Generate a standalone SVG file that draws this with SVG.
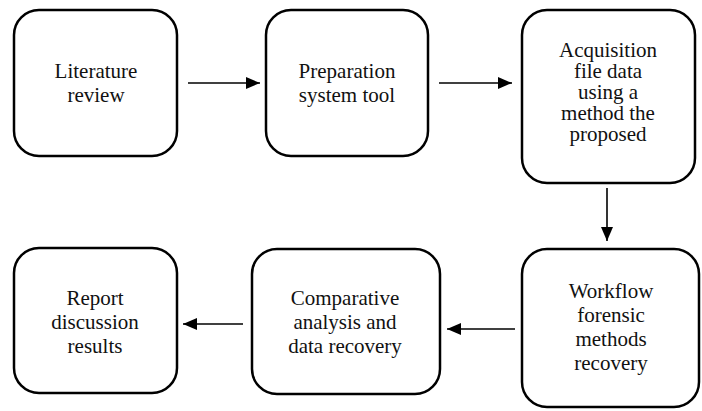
<svg xmlns="http://www.w3.org/2000/svg" width="702" height="411" viewBox="0 0 702 411">
<style>
.box{fill:#fff;stroke:#000;stroke-width:2.5}
text{font-family:'Liberation Serif','Times New Roman',serif;font-size:21px;fill:#111;text-anchor:middle}
.c{stroke:#000;stroke-width:1.6;fill:none}
</style>
<defs>
<marker id="ah" viewBox="0 0 14 12" refX="14" refY="6" markerWidth="14" markerHeight="12" markerUnits="userSpaceOnUse" orient="auto">
<path d="M0,0 L14,6 L0,12 Z" fill="#000"/>
</marker>
</defs>
<rect width="702" height="411" fill="#fff"/>
<g id="n1"><rect class="box" x="14" y="10" width="163" height="146" rx="25"/>
<text x="96" y="78">Literature</text><text x="96" y="102">review</text></g>
<g id="n2"><rect class="box" x="266" y="10" width="162" height="146" rx="25"/>
<text x="347" y="78">Preparation</text><text x="347" y="102">system tool</text></g>
<g id="n3"><rect class="box" x="522" y="10" width="173" height="173" rx="25"/>
<text x="608" y="57">Acquisition</text><text x="608" y="78">file data</text><text x="608" y="99">using a</text><text x="608" y="120">method the</text><text x="608" y="141">proposed</text></g>
<g id="n4"><rect class="box" x="522" y="249" width="177" height="158" rx="25"/>
<text x="611" y="298">Workflow</text><text x="611" y="322">forensic</text><text x="611" y="346">methods</text><text x="611" y="370">recovery</text></g>
<g id="n5"><rect class="box" x="252" y="249" width="188" height="145" rx="25"/>
<text x="345" y="305">Comparative</text><text x="345" y="329">analysis and</text><text x="345" y="353">data recovery</text></g>
<g id="n6"><rect class="box" x="14" y="248" width="163" height="145" rx="25"/>
<text x="95" y="305">Report</text><text x="95" y="329">discussion</text><text x="95" y="353">results</text></g>
<g id="connectors">
<line class="c" x1="188" y1="83" x2="260" y2="83" marker-end="url(#ah)"/>
<line class="c" x1="439" y1="83" x2="512" y2="83" marker-end="url(#ah)"/>
<line class="c" x1="607" y1="188" x2="607" y2="241" marker-end="url(#ah)"/>
<line class="c" x1="515" y1="329" x2="447" y2="329" marker-end="url(#ah)"/>
<line class="c" x1="243" y1="324" x2="183" y2="324" marker-end="url(#ah)"/>
</g>
</svg>
